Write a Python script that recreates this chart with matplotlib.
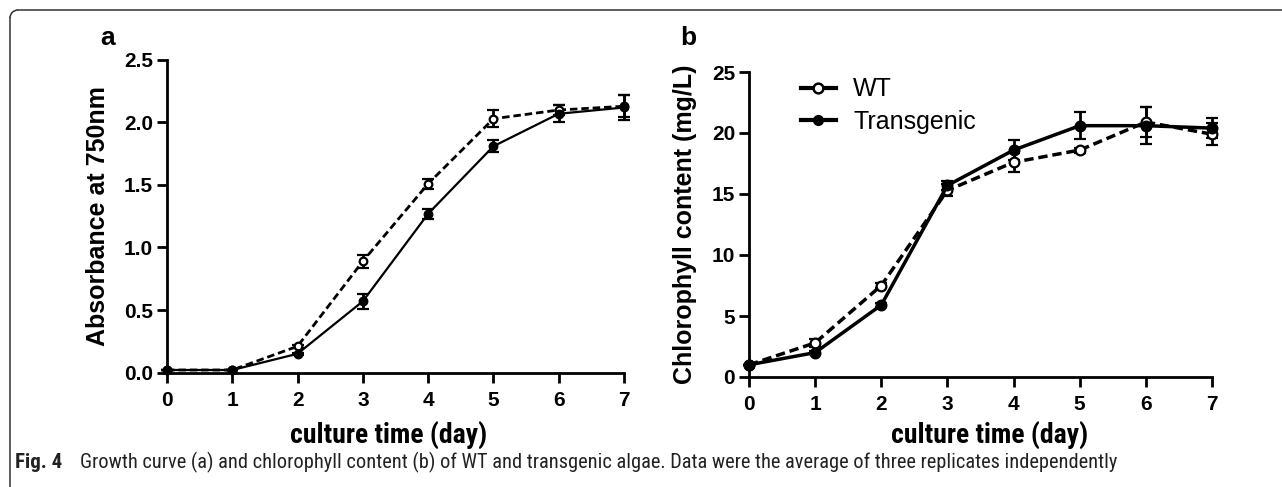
import matplotlib
matplotlib.use("Agg")
import matplotlib.pyplot as plt
from matplotlib.lines import Line2D
from matplotlib.patches import Arc

# data
days = [0, 1, 2, 3, 4, 5, 6, 7]

abs_wt     = [0.02, 0.02, 0.21, 0.89, 1.51, 2.03, 2.10, 2.13]
abs_wt_err = [0.00, 0.00, 0.01, 0.05, 0.04, 0.07, 0.04, 0.09]
abs_tg     = [0.02, 0.02, 0.15, 0.57, 1.27, 1.81, 2.07, 2.12]
abs_tg_err = [0.00, 0.00, 0.01, 0.06, 0.04, 0.05, 0.07, 0.10]

chl_wt     = [1.0, 2.8, 7.5, 15.3, 17.6, 18.6, 20.9, 19.9]
chl_wt_err = [0.0, 0.3, 0.2, 0.5, 0.8, 0.2, 1.2, 0.9]
chl_tg     = [1.0, 2.0, 5.9, 15.7, 18.6, 20.6, 20.6, 20.4]
chl_tg_err = [0.0, 0.1, 0.2, 0.4, 0.8, 1.1, 1.5, 0.8]

abs_ticks = [0.0, 0.5, 1.0, 1.5, 2.0, 2.5]
abs_ticklabels = ["0.0", "0.5", "1.0", "1.5", "2.0", "2.5"]
chl_ticks = [0, 5, 10, 15, 20, 25]

labels = ["WT", "Transgenic"]
caption_bold = "Fig. 4"
caption_rest = ("Growth curve (a) and chlorophyll content (b) of WT and transgenic algae. "
                "Data were the average of three replicates independently")

ARIAL = ["Liberation Sans", "DejaVu Sans"]
NARROW = ["Roboto Condensed", "Liberation Sans Narrow", "Roboto", "Liberation Sans"]

plt.rcParams["font.family"] = ARIAL

W, H = 1282, 487
fig = plt.figure(figsize=(W / 100, H / 100), dpi=100)


def px_axes(x0, x1, y_top, y_bot):
    return fig.add_axes([x0 / W, 1 - y_bot / H, (x1 - x0) / W, (y_bot - y_top) / H])


def style_axes(ax):
    for s in ("top", "right"):
        ax.spines[s].set_visible(False)
    for s in ("left", "bottom"):
        ax.spines[s].set_linewidth(2.0)
    ax.tick_params(direction="out", length=7, width=2.0, labelsize=15)
    ax.tick_params(axis="x", pad=6)
    ax.tick_params(axis="y", pad=3)
    for lab in ax.get_xticklabels() + ax.get_yticklabels():
        lab.set_fontweight("bold")
    ax.set_xlim(0, 7)
    ax.set_xticks(days)


def draw_series(ax, y, err, filled, dashed, lw, ms):
    ls = (0, (2.7, 1.4)) if dashed else "-"
    ax.errorbar(days, y, yerr=err, color="black", lw=lw, ls=ls,
                marker="o", ms=ms, mfc="black" if filled else "white",
                mec="black", mew=1.6, capsize=4, capthick=2.0, elinewidth=2.0,
                clip_on=False, zorder=3)


# panel a
ax1 = px_axes(167, 624, 60, 372.5)
draw_series(ax1, abs_wt, abs_wt_err, False, True, 2.0, 5.5)
draw_series(ax1, abs_tg, abs_tg_err, True, False, 1.6, 5.5)
ax1.set_ylim(0, 2.5)
ax1.set_yticks(abs_ticks, abs_ticklabels)
style_axes(ax1)
ax1.set_ylabel("Absorbance at 750nm", fontsize=18, fontweight="bold", va="center")
ax1.yaxis.set_label_coords(-0.15, 0.5)
ax1.set_xlabel("culture time (day)", fontsize=20, fontweight="bold",
               family=NARROW, va="center")
ax1.xaxis.set_label_coords(0.485, -0.2)

# panel b
ax2 = px_axes(749, 1212, 72, 377)
draw_series(ax2, chl_wt, chl_wt_err, False, True, 2.5, 7)
draw_series(ax2, chl_tg, chl_tg_err, True, False, 2.5, 7)
ax2.set_ylim(0, 25)
ax2.set_yticks(chl_ticks)
style_axes(ax2)
ax2.set_ylabel("Chlorophyll content (mg/L)", fontsize=18, fontweight="bold", va="center")
ax2.yaxis.set_label_coords(-0.138, 0.5)
ax2.set_xlabel("culture time (day)", fontsize=20, fontweight="bold",
               family=NARROW, va="center")
ax2.xaxis.set_label_coords(0.52, -0.19)

handles = [
    Line2D([], [], color="black", lw=3, marker="o", ms=7, mfc="white", mec="black", mew=1.8),
    Line2D([], [], color="black", lw=3, marker="o", ms=7, mfc="black", mec="black"),
]
ax2.legend(handles, labels, loc="upper left", bbox_to_anchor=(0.09, 1.015),
           frameon=False, fontsize=18, handlelength=1.4, handletextpad=0.7,
           labelspacing=0.35, borderaxespad=0.0)

# panel letters
fig.text(108 / W, 1 - 38 / H, "a", fontsize=19, fontweight="bold", ha="center", va="center")
fig.text(688 / W, 1 - 38 / H, "b", fontsize=19, fontweight="bold", ha="center", va="center")

# caption
fig.text(15 / W, 1 - 462 / H, caption_bold, fontsize=15, fontweight="bold",
         family=NARROW, va="center", color="#222222")
fig.text(80 / W, 1 - 462 / H, caption_rest, fontsize=14.7, family=NARROW,
         va="center", color="#222222")

# rounded frame, cut off at right and bottom
frame_kw = dict(color="#333333", lw=1.1, transform=fig.dpi_scale_trans)
r = 8
fig.add_artist(Line2D([10 / 100, 10 / 100], [0, (H - 10 - r) / 100], **frame_kw))
fig.add_artist(Line2D([(10 + r) / 100, W / 100], [(H - 10) / 100, (H - 10) / 100], **frame_kw))
fig.add_artist(Arc(((10 + r) / 100, (H - 10 - r) / 100), 2 * r / 100, 2 * r / 100,
                   theta1=90, theta2=180, color="#333333", lw=1.1,
                   transform=fig.dpi_scale_trans))

fig.savefig("out.png", dpi=100)
